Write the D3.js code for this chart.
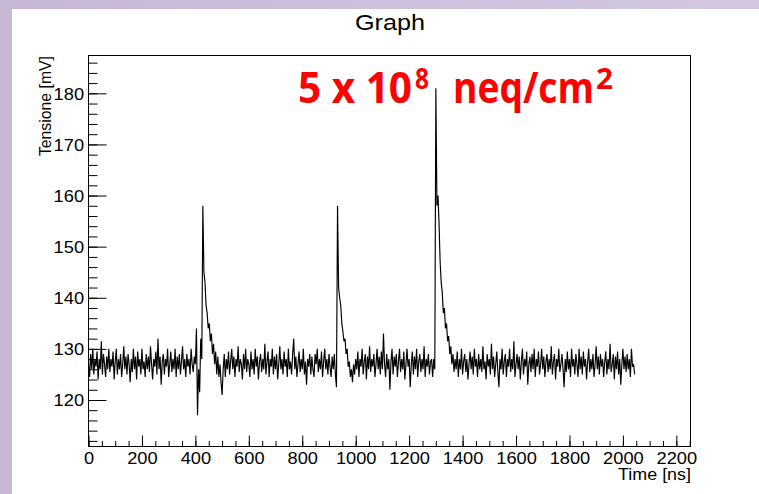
<!DOCTYPE html>
<html><head><meta charset="utf-8">
<script src="https://cdn.jsdelivr.net/npm/d3@7"></script>
<style>html,body{margin:0;padding:0;background:#fff;overflow:hidden;} svg{display:block;}</style>
</head><body>
<svg id="chart" width="759" height="494"></svg>
<script>
// ---------- data ----------
const SAMPLE_NS = 4;               // sampling step of the waveform
const xDomain = [0, 2253];          // Time [ns]
const yDomain = [110.9, 187.4];     // Tensione [mV]
const xMajorTicks = [0,200,400,600,800,1000,1200,1400,1600,1800,2000,2200];
const yMajorTicks = [120,130,140,150,160,170,180];
const titleText = "Graph";
const xTitle = "Time [ns]";
const yTitle = "Tensione [mV]";

// baseline before the first pulse, t = 0 .. 396
const segA_start = 0;
const segA = [127,124.5,129,126,130,125,128,126.5,129.5,124,
128,126,131.5,125,129,127,124.5,128.5,126,130,
125.5,128,126.5,129.5,124,127.5,130,125,128,126,
129,124.5,127,130.5,126,128.5,125,129,127,123.5,
128,125.5,130,126,128.5,124,129.5,126.5,128,125,
130,126,127.5,124.5,129,126,128.5,125.5,130.5,127,
124,128,126.5,129.5,125,132,126,128.5,123,127.5,
129,125,128,126.5,130,124.5,127,129.5,125.5,128,
126,130,124.5,128.5,126,129,125,127.5,130.5,126,
128,124.5,129,126.5,128,125,130,127,125.5,128.5];
// first pulse, t = 400 .. 520
const pulse1_start = 400;
const pulse1 = [127,134,117,126,121.5,132,128,158,145,143,138.5,137,134,135,131.5,133,
129,131,127,129.5,125,128.5,124.5,127,123.5,121,126,129,124.5,128,126];
// baseline, t = 524 .. 920
const segB_start = 524;
const segB = [129.5,125,127.5,130,126,128.5,124.5,128,126.5,130.5,
125.5,128,127,124,129,126,130,125.5,128,127,
124.5,129.5,126,128,125,130,126.5,128.5,124,127.5,
129,125.5,128,126,131,125,127.5,129.5,124.5,128,
126.5,130,125,128.5,126,129,124,127,130.5,126,
128,125,129.5,126.5,128,124.5,130,126,127.5,125,
129,132,126,128.5,124.5,127,129.5,125.5,128,126,
130,125,127.5,123,128,126.5,129,125,128.5,126,
124.5,129,127,130,125.5,128,126,129.5,124.5,127.5,
130,126,128,125,129,126.5,124.5,128.5,126,129];
// second pulse, t = 924 .. 1000
const pulse2_start = 924;
const pulse2 = [125,122.5,158,142,140,138.5,135,133.5,131.5,132,129,130,126.5,127.5,124.5,126,123.5,127,125,128];
// baseline, t = 1004 .. 1284
const segC_start = 1004;
const segC = [126,129.5,124.5,128,126.5,130,125,127.5,129,124,
128.5,126,130.5,125.5,128,126.5,129,124.5,127,130,
126,128.5,125,129.5,126,133,127,124.5,129,126,
128,122,127.5,130,125,128.5,126.5,129,124.5,127.5,
130,125.5,128,126,129.5,124,127,130,126.5,128,
122.5,127,129.5,125,128.5,126,130,124.5,127.5,129,
125.5,128,126,130.5,124.5,128,126.5,129,125,127.5,
128];
// third pulse, t = 1288 .. 1372
const pulse3_start = 1288;
const pulse3 = [124.5,128,126,181,158,160,154.5,147,143,141,137,138,134,135,131.5,132.5,129,130.5,127,129,125.5,128];
// baseline after the last pulse, t = 1376 .. 2044
const segD_start = 1376;
const segD = [126,129.5,124.5,128,126,130,125,127.5,129,125.5,
128,124,127,129.5,126,128.5,125,130,126.5,128,
124.5,129,126,128,125.5,130.5,126,127.5,124,129,
126.5,128,125,131,126,128.5,124.5,127,129.5,125.5,
122.5,128,126,130,125,127.5,129,124.5,128,126.5,
130,125.5,128,126,131.5,124.5,127,129,126,128.5,
124,127.5,130,125,128,126.5,129.5,123,127,128.5,
125.5,129,126,130,124.5,128,126.5,129.5,125,127,
130,126,128.5,124.5,127.5,129,125.5,128,126,130.5,
125,127.5,129,124,128,126.5,130,125.5,127,129,
126,122.5,128,125.5,129.5,126,128,124.5,130,126.5,
128,125,129,127,124.5,130,126,128.5,125,129.5,
126.5,128,124,127.5,130,125.5,128,126,129,124.5,
127,130.5,126,128.5,125,129,126.5,128,124.5,127.5,
129.5,125,128,126,131,125.5,127,129,124,128.5,
126,129.5,125,128,123,127,130,126,128.5,125.5,
129,126,128,124.5,130,126.5,127,125];

// ---------- build ----------
const segments = [
  {start: segA_start, values: segA},
  {start: pulse1_start, values: pulse1},
  {start: segB_start, values: segB},
  {start: pulse2_start, values: pulse2},
  {start: segC_start, values: segC},
  {start: pulse3_start, values: pulse3},
  {start: segD_start, values: segD}
];
const points = segments.flatMap(s => s.values.map((v, i) => ({t: s.start + i * SAMPLE_NS, v})));

const W = 759, H = 494;
const frame = {left: 88.5, right: 690.5, top: 55.5, bottom: 446.5};
const SX = 1.12; // horizontal stretch of the reference text
const FONT = "'Liberation Sans', Arial, Helvetica, sans-serif";

const svg = d3.select("#chart");

// lavender page border
const defs = svg.append("defs");
const grad = defs.append("linearGradient").attr("id", "band").attr("x1", 0).attr("x2", 1).attr("y1", 0).attr("y2", 0);
grad.append("stop").attr("offset", "0%").attr("stop-color", "#c6b8d5");
grad.append("stop").attr("offset", "100%").attr("stop-color", "#d3c8e0");
svg.append("rect").attr("x", 0).attr("y", 0).attr("width", W).attr("height", 9).attr("fill", "url(#band)");
svg.append("rect").attr("x", 0).attr("y", 0).attr("width", 12).attr("height", H).attr("fill", "#c6b8d5");

const x = d3.scaleLinear().domain(xDomain).range([frame.left, frame.right]);
const y = d3.scaleLinear().domain(yDomain).range([frame.bottom, frame.top]);

// title
svg.append("text").attr("transform", `translate(390,30) scale(${SX},1)`)
  .attr("text-anchor", "middle").attr("font-family", FONT).attr("font-size", 22.5)
  .attr("fill", "#000").text(titleText);

// waveform
svg.append("path").datum(points)
  .attr("fill", "none").attr("stroke", "#000").attr("stroke-width", 1.15)
  .attr("d", d3.line().x(d => x(d.t)).y(d => y(d.v)));

// frame
svg.append("rect").attr("x", frame.left).attr("y", frame.top)
  .attr("width", frame.right - frame.left).attr("height", frame.bottom - frame.top)
  .attr("fill", "none").attr("stroke", "#000").attr("stroke-width", 1);

// x axis: minor + major ticks pointing inward
const xMinor = d3.range(0, xDomain[1], 50);
svg.append("g").attr("transform", `translate(0,${frame.bottom})`)
  .call(d3.axisBottom(x).tickValues(xMinor).tickSize(-5.5).tickFormat(""))
  .call(g => g.select(".domain").remove());
const gx = svg.append("g").attr("transform", `translate(0,${frame.bottom})`)
  .call(d3.axisBottom(x).tickValues(xMajorTicks).tickSize(-11).tickFormat(d3.format("d")));
gx.select(".domain").remove();
gx.selectAll("line").attr("stroke", "#000");
gx.selectAll("text").attr("y", 17.5).attr("dy", 0)
  .attr("transform", `scale(${SX},1)`)
  .attr("font-family", FONT).attr("font-size", 16.3).attr("fill", "#000");

// y axis
const yMinor = d3.range(112, yDomain[1], 2);
svg.append("g").attr("transform", `translate(${frame.left},0)`)
  .call(d3.axisLeft(y).tickValues(yMinor).tickSize(-9).tickFormat(""))
  .call(g => g.select(".domain").remove());
const gy = svg.append("g").attr("transform", `translate(${frame.left},0)`)
  .call(d3.axisLeft(y).tickValues(yMajorTicks).tickSize(-18).tickPadding(4).tickFormat(d3.format("d")));
gy.select(".domain").remove();
gy.selectAll("line").attr("stroke", "#000");
gy.selectAll("text").attr("dy", "0.36em")
  .attr("transform", `scale(${SX},1)`)
  .attr("font-family", FONT).attr("font-size", 16.3).attr("fill", "#000");

// axis titles
svg.append("text").attr("transform", `translate(${frame.right + 0.5},480) scale(${SX},1)`)
  .attr("text-anchor", "end").attr("font-family", FONT).attr("font-size", 16)
  .attr("fill", "#000").text(xTitle);
svg.append("text").attr("transform", `translate(51,${frame.top + 0.5}) rotate(-90)`)
  .attr("text-anchor", "end").attr("font-family", FONT).attr("font-size", 15.8)
  .attr("fill", "#000").text(yTitle);

// red annotation: one text element, superscripts as tspans
const RED = "#ff0000", AFONT = "'Open Sans', 'Noto Sans', sans-serif";
const ann = [
  {txt: "5 x 10", x: 298, y: 103, size: 43, len: 114},
  {txt: "8", x: 415, y: 89, size: 29, len: 14},
  {txt: "neq/cm", x: 453, y: 103, size: 43, len: 141},
  {txt: "2", x: 596, y: 89, size: 29, len: 17}
];
const annText = svg.append("text")
  .attr("font-family", AFONT).attr("font-weight", 700).attr("fill", RED);
annText.selectAll("tspan").data(ann).enter().append("tspan")
  .attr("x", d => d.x).attr("y", d => d.y).attr("font-size", d => d.size)
  .attr("textLength", d => d.len).attr("lengthAdjust", "spacingAndGlyphs")
  .text(d => d.txt);
</script>
</body></html>
